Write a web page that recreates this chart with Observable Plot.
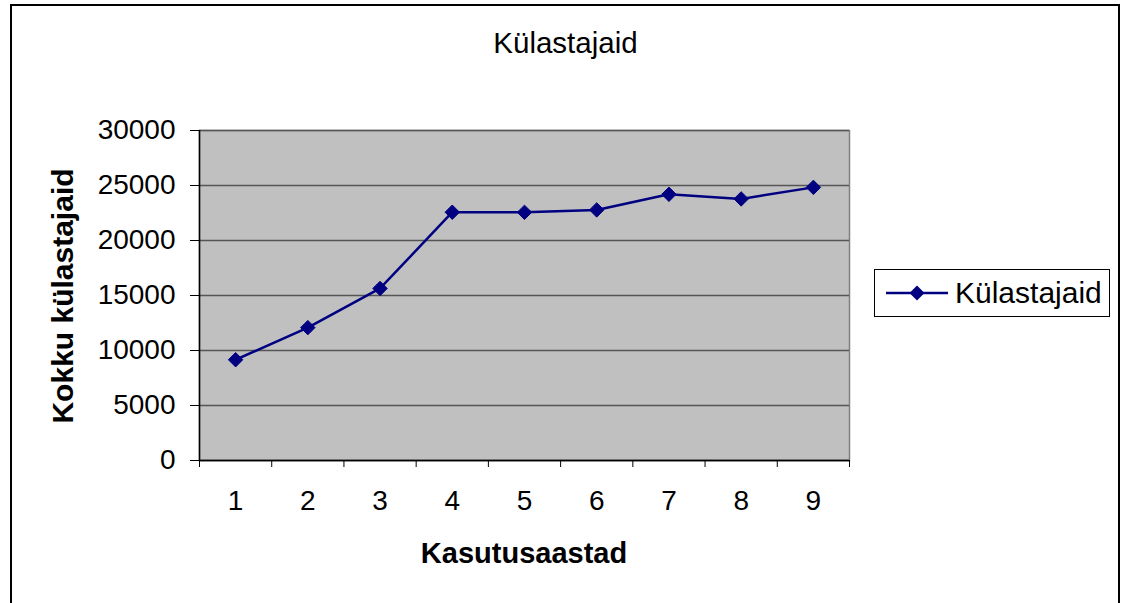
<!DOCTYPE html>
<html>
<head>
<meta charset="utf-8">
<script src="https://cdn.jsdelivr.net/npm/d3@7"></script>
<script src="https://cdn.jsdelivr.net/npm/@observablehq/plot@0.6"></script>
<style>
  html, body { margin: 0; padding: 0; background: #fff; }
  #wrap { position: relative; width: 1127px; height: 603px; overflow: hidden; font-family: "Liberation Sans", Arial, sans-serif; }
  #frame { position: absolute; left: 10px; top: 4px; width: 1110px; height: 700px; border: 2px solid #000; box-sizing: border-box; }
  #chart { position: absolute; left: 0; top: 0; }
  .title { position: absolute; left: 0; width: 1131px; top: 26px; text-align: center; font-size: 29.5px; line-height: 34px; color: #000; }
  .xlabel { position: absolute; left: 199px; width: 650px; top: 536px; text-align: center; font-size: 29px; font-weight: bold; line-height: 34px; }
  .ylabel { position: absolute; left: 63px; top: 296px; transform: translate(-50%, -50%) rotate(-90deg); white-space: nowrap; font-size: 30px; font-weight: bold; line-height: 34px; }
  .legend { position: absolute; left: 874px; top: 269px; width: 236px; height: 48px; border: 1.5px solid #000; box-sizing: border-box; background: #fff; display: flex; align-items: center; }
  .legend svg { margin-left: 11px; }
  .legend span { font-size: 30px; margin-left: 7px; line-height: 32px; }
</style>
</head>
<body>
<div id="wrap">
  <div id="frame"></div>
  <div id="chart"></div>
  <div class="title" id="title"></div>
  <div class="xlabel" id="xlabel"></div>
  <div class="ylabel" id="ylabel"></div>
  <div class="legend" id="legend"></div>
</div>
<script>
const titleText = "Külastajaid";
const seriesName = "Külastajaid";
const xTitle = "Kasutusaastad";
const yTitle = "Kokku külastajaid";
const years = [1, 2, 3, 4, 5, 6, 7, 8, 9];
const visitors = [9160, 12080, 15640, 22570, 22560, 22780, 24200, 23780, 24830];
const yTicks = [0, 5000, 10000, 15000, 20000, 25000, 30000];

const data = years.map((y, i) => ({year: y, value: visitors[i]}));
const bounds = [years[0] - 0.5, ...years.map(y => y + 0.5)];
const navy = "#000080";

const chart = Plot.plot({
  width: 1127,
  height: 603,
  marginLeft: 199,
  marginRight: 278,
  marginTop: 130,
  marginBottom: 143,
  style: {fontFamily: "'Liberation Sans', Arial, sans-serif", fontSize: "28px", background: "transparent", color: "#000", overflow: "visible"},
  x: {type: "linear", domain: [bounds[0], bounds[bounds.length - 1]]},
  y: {domain: [0, 30000]},
  marks: [
    Plot.frame({fill: "#c0c0c0", stroke: "#808080", strokeWidth: 1.5}),
    Plot.gridY(yTicks, {stroke: "#555", strokeOpacity: 1, strokeWidth: 1.5}),
    Plot.axisY(yTicks, {tickSize: 9, tickPadding: 15, tickFormat: d => String(d), label: null, fontSize: 28, stroke: "#000"}),
    Plot.axisX(bounds, {tickSize: 7, tickFormat: () => "", label: null, stroke: "#000"}),
    Plot.axisX(years, {tickSize: 0, tickPadding: 30, label: null, fontSize: 28}),
    Plot.ruleY([0], {stroke: "#000", strokeWidth: 1.5}),
    Plot.ruleX([bounds[0]], {stroke: "#000", strokeWidth: 1.5}),
    Plot.line(data, {x: "year", y: "value", stroke: navy, strokeWidth: 2.5}),
    Plot.dot(data, {x: "year", y: "value", symbol: "diamond2", r: 6.5, fill: navy, stroke: navy, strokeWidth: 1})
  ]
});
document.getElementById("chart").appendChild(chart);
document.getElementById("title").textContent = titleText;
document.getElementById("xlabel").textContent = xTitle;
document.getElementById("ylabel").textContent = yTitle;

const legend = document.getElementById("legend");
legend.innerHTML = `<svg width="62" height="20" viewBox="0 0 62 20"><line x1="0" y1="10" x2="62" y2="10" stroke="${navy}" stroke-width="2.5"/><path d="M31,2.5 L38.5,10 L31,17.5 L23.5,10 Z" fill="${navy}"/></svg><span></span>`;
legend.querySelector("span").textContent = seriesName;
</script>
</body>
</html>
